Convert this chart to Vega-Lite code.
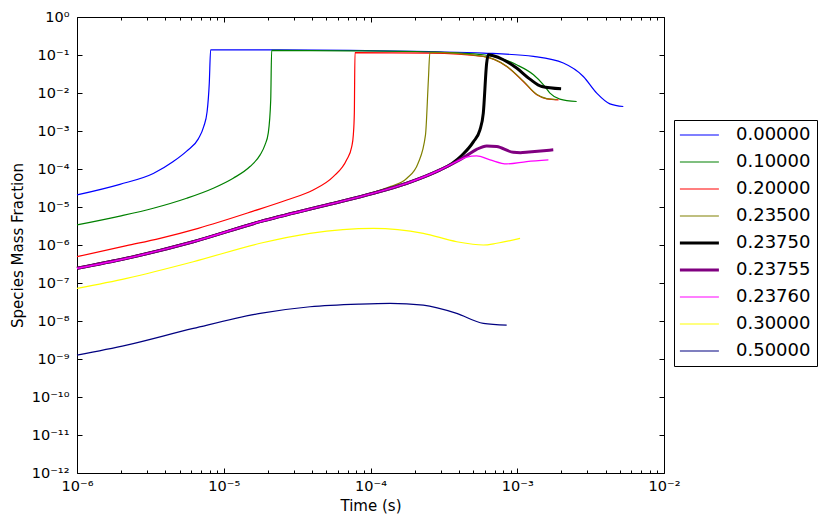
{
  "$schema": "https://vega.github.io/schema/vega-lite/v6.json",
  "autosize": {"type": "none"},
  "padding": {"left": 77, "top": 17, "right": 166, "bottom": 54},
  "width": 587,
  "height": 456,
  "background": "white",
  "datasets": {
    "curves": [
      {"s": "0.00000", "t": 1e-6, "y": 2.08e-5},
      {"s": "0.00000", "t": 1.96e-6, "y": 3.95e-5},
      {"s": "0.00000", "t": 3.31e-6, "y": 7.6e-5},
      {"s": "0.00000", "t": 4.53e-6, "y": 1.57e-4},
      {"s": "0.00000", "t": 5.59e-6, "y": 2.95e-4},
      {"s": "0.00000", "t": 6.71e-6, "y": 6.2e-4},
      {"s": "0.00000", "t": 7.3e-6, "y": 1.3e-3},
      {"s": "0.00000", "t": 7.7e-6, "y": 3.2e-3},
      {"s": "0.00000", "t": 7.97e-6, "y": 1.82e-2},
      {"s": "0.00000", "t": 8.14e-6, "y": 0.1375},
      {"s": "0.00000", "t": 1.77e-5, "y": 0.137},
      {"s": "0.00000", "t": 7.24e-5, "y": 0.132},
      {"s": "0.00000", "t": 2.54e-4, "y": 0.122},
      {"s": "0.00000", "t": 5.87e-4, "y": 0.1125},
      {"s": "0.00000", "t": 1.29e-3, "y": 0.0916},
      {"s": "0.00000", "t": 2.06e-3, "y": 0.0614},
      {"s": "0.00000", "t": 2.82e-3, "y": 0.0272},
      {"s": "0.00000", "t": 3.48e-3, "y": 9.94e-3},
      {"s": "0.00000", "t": 4.28e-3, "y": 5.19e-3},
      {"s": "0.00000", "t": 5.28e-3, "y": 4.41e-3},

      {"s": "0.10000", "t": 1e-6, "y": 3.37e-6},
      {"s": "0.10000", "t": 1.96e-6, "y": 5.75e-6},
      {"s": "0.10000", "t": 3.31e-6, "y": 9.27e-6},
      {"s": "0.10000", "t": 5.59e-6, "y": 1.70e-5},
      {"s": "0.10000", "t": 8.49e-6, "y": 3.12e-5},
      {"s": "0.10000", "t": 1.16e-5, "y": 5.72e-5},
      {"s": "0.10000", "t": 1.51e-5, "y": 1.16e-4},
      {"s": "0.10000", "t": 1.77e-5, "y": 2.35e-4},
      {"s": "0.10000", "t": 1.91e-5, "y": 4.32e-4},
      {"s": "0.10000", "t": 2.01e-5, "y": 8.78e-4},
      {"s": "0.10000", "t": 2.09e-5, "y": 6.62e-3},
      {"s": "0.10000", "t": 2.12e-5, "y": 0.132},
      {"s": "0.10000", "t": 7.24e-5, "y": 0.129},
      {"s": "0.10000", "t": 2.54e-4, "y": 0.12},
      {"s": "0.10000", "t": 5.87e-4, "y": 0.1015},
      {"s": "0.10000", "t": 9.9e-4, "y": 0.0553},
      {"s": "0.10000", "t": 1.29e-3, "y": 0.0302},
      {"s": "0.10000", "t": 1.51e-3, "y": 0.0164},
      {"s": "0.10000", "t": 1.67e-3, "y": 9.94e-3},
      {"s": "0.10000", "t": 1.95e-3, "y": 6.9e-3},
      {"s": "0.10000", "t": 2.54e-3, "y": 5.97e-3},

      {"s": "0.20000", "t": 1e-6, "y": 4.92e-7},
      {"s": "0.20000", "t": 2.18e-6, "y": 9.6e-7},
      {"s": "0.20000", "t": 3.68e-6, "y": 1.5e-6},
      {"s": "0.20000", "t": 6.7e-6, "y": 2.75e-6},
      {"s": "0.20000", "t": 1.59e-5, "y": 7.8e-6},
      {"s": "0.20000", "t": 2.69e-5, "y": 1.53e-5},
      {"s": "0.20000", "t": 4.07e-5, "y": 2.81e-5},
      {"s": "0.20000", "t": 5.58e-5, "y": 6.3e-5},
      {"s": "0.20000", "t": 6.88e-5, "y": 1.74e-4},
      {"s": "0.20000", "t": 7.45e-5, "y": 3.89e-4},
      {"s": "0.20000", "t": 7.64e-5, "y": 8.0e-4},
      {"s": "0.20000", "t": 7.76e-5, "y": 3.0e-3},
      {"s": "0.20000", "t": 7.84e-5, "y": 0.116},
      {"s": "0.20000", "t": 2.54e-4, "y": 0.1125},
      {"s": "0.20000", "t": 5.87e-4, "y": 0.0916},
      {"s": "0.20000", "t": 8.47e-4, "y": 0.0499},
      {"s": "0.20000", "t": 1.10e-3, "y": 0.0201},
      {"s": "0.20000", "t": 1.36e-3, "y": 8.97e-3},
      {"s": "0.20000", "t": 1.59e-3, "y": 7.03e-3},
      {"s": "0.20000", "t": 1.91e-3, "y": 6.62e-3},

      {"s": "0.23500", "t": 1e-6, "y": 2.55e-7},
      {"s": "0.23500", "t": 2.18e-6, "y": 4.65e-7},
      {"s": "0.23500", "t": 6.2e-6, "y": 1.27e-6},
      {"s": "0.23500", "t": 1.77e-5, "y": 4.3e-6},
      {"s": "0.23500", "t": 5.03e-5, "y": 1.18e-5},
      {"s": "0.23500", "t": 1.045e-4, "y": 2.45e-5},
      {"s": "0.23500", "t": 1.36e-4, "y": 3.44e-5},
      {"s": "0.23500", "t": 1.77e-4, "y": 5.72e-5},
      {"s": "0.23500", "t": 2.11e-4, "y": 1.42e-4},
      {"s": "0.23500", "t": 2.37e-4, "y": 7.9e-4},
      {"s": "0.23500", "t": 2.48e-4, "y": 0.0223},
      {"s": "0.23500", "t": 2.54e-4, "y": 0.117},
      {"s": "0.23500", "t": 5.87e-4, "y": 0.0916},
      {"s": "0.23500", "t": 8.47e-4, "y": 0.0505},
      {"s": "0.23500", "t": 1.10e-3, "y": 0.0205},
      {"s": "0.23500", "t": 1.36e-3, "y": 9.1e-3},
      {"s": "0.23500", "t": 1.59e-3, "y": 7.1e-3},
      {"s": "0.23500", "t": 1.85e-3, "y": 6.7e-3},

      {"s": "0.23750", "t": 1e-6, "y": 2.43e-7},
      {"s": "0.23750", "t": 2.18e-6, "y": 4.46e-7},
      {"s": "0.23750", "t": 6.2e-6, "y": 1.22e-6},
      {"s": "0.23750", "t": 1.77e-5, "y": 4.11e-6},
      {"s": "0.23750", "t": 5.03e-5, "y": 1.13e-5},
      {"s": "0.23750", "t": 1.045e-4, "y": 2.30e-5},
      {"s": "0.23750", "t": 1.77e-4, "y": 4.22e-5},
      {"s": "0.23750", "t": 2.98e-4, "y": 9.47e-5},
      {"s": "0.23750", "t": 3.6e-4, "y": 1.4e-4},
      {"s": "0.23750", "t": 4.2e-4, "y": 2.3e-4},
      {"s": "0.23750", "t": 5.02e-4, "y": 5.18e-4},
      {"s": "0.23750", "t": 5.57e-4, "y": 1.07e-3},
      {"s": "0.23750", "t": 5.87e-4, "y": 2.95e-3},
      {"s": "0.23750", "t": 6.19e-4, "y": 0.0614},
      {"s": "0.23750", "t": 6.35e-4, "y": 0.1015},
      {"s": "0.23750", "t": 6.87e-4, "y": 0.0955},
      {"s": "0.23750", "t": 8.04e-4, "y": 0.075},
      {"s": "0.23750", "t": 9.9e-4, "y": 0.0453},
      {"s": "0.23750", "t": 1.22e-3, "y": 0.0232},
      {"s": "0.23750", "t": 1.47e-3, "y": 0.0148},
      {"s": "0.23750", "t": 1.99e-3, "y": 0.0129},

      {"s": "0.23755", "t": 1e-6, "y": 2.43e-7},
      {"s": "0.23755", "t": 2.18e-6, "y": 4.46e-7},
      {"s": "0.23755", "t": 6.2e-6, "y": 1.22e-6},
      {"s": "0.23755", "t": 1.77e-5, "y": 4.11e-6},
      {"s": "0.23755", "t": 5.03e-5, "y": 1.13e-5},
      {"s": "0.23755", "t": 1.045e-4, "y": 2.30e-5},
      {"s": "0.23755", "t": 1.77e-4, "y": 4.22e-5},
      {"s": "0.23755", "t": 2.98e-4, "y": 9.47e-5},
      {"s": "0.23755", "t": 3.87e-4, "y": 1.57e-4},
      {"s": "0.23755", "t": 4.52e-4, "y": 2.25e-4},
      {"s": "0.23755", "t": 5.29e-4, "y": 3.28e-4},
      {"s": "0.23755", "t": 6.19e-4, "y": 4.06e-4},
      {"s": "0.23755", "t": 7.24e-4, "y": 3.89e-4},
      {"s": "0.23755", "t": 9.4e-4, "y": 2.75e-4},
      {"s": "0.23755", "t": 1.05e-3, "y": 2.68e-4},
      {"s": "0.23755", "t": 1.2e-3, "y": 2.8e-4},
      {"s": "0.23755", "t": 1.76e-3, "y": 3.2e-4},

      {"s": "0.23760", "t": 1e-6, "y": 2.43e-7},
      {"s": "0.23760", "t": 2.18e-6, "y": 4.46e-7},
      {"s": "0.23760", "t": 6.2e-6, "y": 1.22e-6},
      {"s": "0.23760", "t": 1.77e-5, "y": 4.11e-6},
      {"s": "0.23760", "t": 5.03e-5, "y": 1.13e-5},
      {"s": "0.23760", "t": 1.045e-4, "y": 2.30e-5},
      {"s": "0.23760", "t": 1.77e-4, "y": 4.22e-5},
      {"s": "0.23760", "t": 2.98e-4, "y": 9.47e-5},
      {"s": "0.23760", "t": 3.87e-4, "y": 1.57e-4},
      {"s": "0.23760", "t": 4.52e-4, "y": 2.05e-4},
      {"s": "0.23760", "t": 5.29e-4, "y": 2.21e-4},
      {"s": "0.23760", "t": 6.52e-4, "y": 1.74e-4},
      {"s": "0.23760", "t": 8.47e-4, "y": 1.36e-4},
      {"s": "0.23760", "t": 1.16e-3, "y": 1.57e-4},
      {"s": "0.23760", "t": 1.63e-3, "y": 1.74e-4},

      {"s": "0.30000", "t": 1e-6, "y": 7.23e-8},
      {"s": "0.30000", "t": 2.18e-6, "y": 1.33e-7},
      {"s": "0.30000", "t": 6.2e-6, "y": 3.63e-7},
      {"s": "0.30000", "t": 1.77e-5, "y": 1.11e-6},
      {"s": "0.30000", "t": 3.87e-5, "y": 2.03e-6},
      {"s": "0.30000", "t": 1.045e-4, "y": 2.75e-6},
      {"s": "0.30000", "t": 2.29e-4, "y": 2.03e-6},
      {"s": "0.30000", "t": 3.87e-4, "y": 1.22e-6},
      {"s": "0.30000", "t": 5.87e-4, "y": 1.0e-6},
      {"s": "0.30000", "t": 7.24e-4, "y": 1.11e-6},
      {"s": "0.30000", "t": 1.045e-3, "y": 1.5e-6},

      {"s": "0.50000", "t": 1e-6, "y": 1.26e-9},
      {"s": "0.50000", "t": 2.18e-6, "y": 2.32e-9},
      {"s": "0.50000", "t": 6.2e-6, "y": 6.38e-9},
      {"s": "0.50000", "t": 1.77e-5, "y": 1.585e-8},
      {"s": "0.50000", "t": 3.87e-5, "y": 2.37e-8},
      {"s": "0.50000", "t": 8.48e-5, "y": 2.79e-8},
      {"s": "0.50000", "t": 1.36e-4, "y": 2.91e-8},
      {"s": "0.50000", "t": 2.29e-4, "y": 2.62e-8},
      {"s": "0.50000", "t": 3.87e-4, "y": 1.585e-8},
      {"s": "0.50000", "t": 5.87e-4, "y": 8.65e-9},
      {"s": "0.50000", "t": 8.47e-4, "y": 7.8e-9}
    ]
  },
  "data": {"name": "curves"},
  "config": {
    "font": "DejaVu Sans",
    "view": {"stroke": "black", "strokeWidth": 1},
    "axis": {
      "domain": false,
      "grid": false,
      "tickColor": "black",
      "labelColor": "black",
      "titleColor": "black",
      "labelFont": "DejaVu Sans",
      "titleFont": "DejaVu Sans",
      "labelFontSize": 14.5,
      "titleFontSize": 15,
      "titleFontWeight": "normal"
    },
    "legend": {
      "labelFont": "DejaVu Sans",
      "labelColor": "black"
    }
  },
  "layer": [
    {
      "mark": {"type": "line", "interpolate": "monotone"},
      "encoding": {
        "x": {
          "field": "t",
          "type": "quantitative",
          "scale": {"type": "log", "domain": [1e-6, 1e-2]},
          "axis": {
            "orient": "bottom",
            "title": "Time (s)",
            "values": [1e-6, 1e-5, 1e-4, 1e-3, 1e-2],
            "tickSize": -5,
            "labelPadding": 11,
            "labelFlush": false,
            "labelOverlap": false,
            "titlePadding": 6,
            "labelExpr": "'10⁻' + ['⁰','¹','²','³','⁴','⁵','⁶','⁷','⁸','⁹'][-round(log(datum.value)/LN10)]"
          }
        },
        "y": {
          "field": "y",
          "type": "quantitative",
          "scale": {"type": "log", "domain": [1e-12, 1]},
          "axis": {
            "orient": "left",
            "title": "Species Mass Fraction",
            "values": [1e-12, 1e-11, 1e-10, 1e-9, 1e-8, 1e-7, 1e-6, 1e-5, 1e-4, 1e-3, 1e-2, 1e-1, 1],
            "tickSize": -5,
            "labelPadding": 13,
            "labelFlush": false,
            "labelOverlap": false,
            "titlePadding": 6,
            "labelExpr": "round(log(datum.value)/LN10) == 0 ? '10⁰' : '10⁻' + (-round(log(datum.value)/LN10) >= 10 ? '¹' + ['⁰','¹','²','³','⁴','⁵','⁶','⁷','⁸','⁹'][-round(log(datum.value)/LN10) - 10] : ['⁰','¹','²','³','⁴','⁵','⁶','⁷','⁸','⁹'][-round(log(datum.value)/LN10)])"
          }
        },
        "color": {
          "field": "s",
          "type": "nominal",
          "scale": {
            "domain": ["0.00000", "0.10000", "0.20000", "0.23500", "0.23750", "0.23755", "0.23760", "0.30000", "0.50000"],
            "range": ["#0000ff", "#008000", "#ff0000", "#808000", "#000000", "#800080", "#ff00ff", "#ffff00", "#000080"]
          },
          "legend": {
            "title": null,
            "orient": "none",
            "legendX": 597,
            "legendY": 103,
            "strokeColor": "black",
            "fillColor": "white",
            "padding": 6,
            "labelFontSize": 18,
            "symbolType": "M-1.4,0H4.6",
            "symbolSize": 169,
            "rowPadding": 9,
            "labelOffset": 38
          }
        },
        "strokeWidth": {
          "field": "s",
          "type": "nominal",
          "scale": {
            "type": "ordinal",
            "domain": ["0.00000", "0.10000", "0.20000", "0.23500", "0.23750", "0.23755", "0.23760", "0.30000", "0.50000"],
            "range": [1.2, 1.2, 1.2, 1.2, 3, 3, 1.2, 1.2, 1.2]
          },
          "legend": {
            "title": null,
            "orient": "none",
            "legendX": 597,
            "legendY": 103
          }
        }
      }
    },
    {
      "transform": [{"filter": "false"}],
      "mark": {"type": "line"},
      "encoding": {
        "x": {
          "field": "t",
          "type": "quantitative",
          "scale": {"type": "log", "domain": [1e-6, 1e-2]},
          "axis": {"orient": "top", "title": null, "labels": false, "tickSize": -5, "values": [1e-6, 1e-5, 1e-4, 1e-3, 1e-2]}
        },
        "y": {
          "field": "y",
          "type": "quantitative",
          "scale": {"type": "log", "domain": [1e-12, 1]},
          "axis": {"orient": "right", "title": null, "labels": false, "tickSize": -5, "values": [1e-12, 1e-11, 1e-10, 1e-9, 1e-8, 1e-7, 1e-6, 1e-5, 1e-4, 1e-3, 1e-2, 1e-1, 1]}
        }
      }
    },
    {
      "transform": [{"filter": "false"}],
      "mark": {"type": "line"},
      "encoding": {
        "x": {
          "field": "t",
          "type": "quantitative",
          "scale": {"type": "log", "domain": [1e-6, 1e-2]},
          "axis": {"orient": "bottom", "title": null, "labels": false, "tickSize": -3, "values": [2e-6, 3e-6, 4e-6, 5e-6, 6e-6, 7e-6, 8e-6, 9e-6, 2e-5, 3e-5, 4e-5, 5e-5, 6e-5, 7e-5, 8e-5, 9e-5, 2e-4, 3e-4, 4e-4, 5e-4, 6e-4, 7e-4, 8e-4, 9e-4, 2e-3, 3e-3, 4e-3, 5e-3, 6e-3, 7e-3, 8e-3, 9e-3]}
        },
        "y": {"field": "y", "type": "quantitative", "scale": {"type": "log", "domain": [1e-12, 1]}, "axis": null}
      }
    },
    {
      "transform": [{"filter": "false"}],
      "mark": {"type": "line"},
      "encoding": {
        "x": {
          "field": "t",
          "type": "quantitative",
          "scale": {"type": "log", "domain": [1e-6, 1e-2]},
          "axis": {"orient": "top", "title": null, "labels": false, "tickSize": -3, "values": [2e-6, 3e-6, 4e-6, 5e-6, 6e-6, 7e-6, 8e-6, 9e-6, 2e-5, 3e-5, 4e-5, 5e-5, 6e-5, 7e-5, 8e-5, 9e-5, 2e-4, 3e-4, 4e-4, 5e-4, 6e-4, 7e-4, 8e-4, 9e-4, 2e-3, 3e-3, 4e-3, 5e-3, 6e-3, 7e-3, 8e-3, 9e-3]}
        },
        "y": {"field": "y", "type": "quantitative", "scale": {"type": "log", "domain": [1e-12, 1]}, "axis": null}
      }
    }
  ],
  "resolve": {"axis": {"x": "independent", "y": "independent"}}
}
